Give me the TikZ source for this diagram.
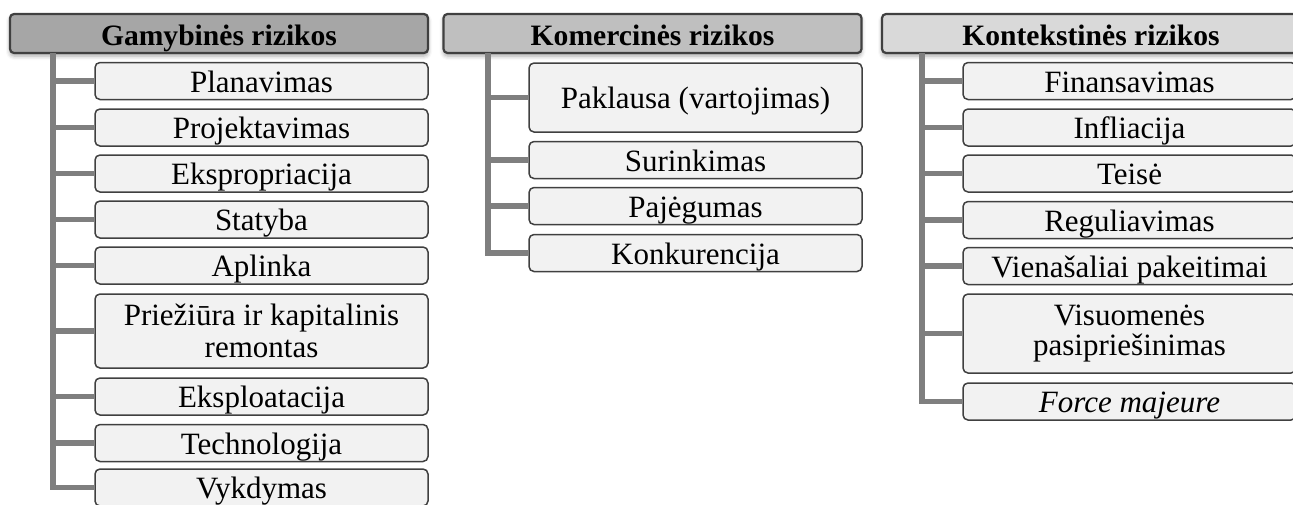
\documentclass[tikz,border=0pt]{standalone}
\usepackage{fontspec}
\setmainfont{Liberation Serif}
\usetikzlibrary{shadows.blur}
\definecolor{hdA}{HTML}{A6A6A6}
\definecolor{hdB}{HTML}{BFBFBF}
\definecolor{hdC}{HTML}{D9D9D9}
\definecolor{kidfill}{HTML}{F2F2F2}
\definecolor{edge}{HTML}{404040}
\definecolor{connc}{HTML}{7F7F7F}
\tikzset{
  hdr/.style={draw=edge, line width=1.1pt, rounded corners=2pt,
    minimum width=209pt, minimum height=19.5pt, inner sep=0pt,
    text height=12pt, text depth=0.5pt,
    font=\fontsize{14.8}{16}\selectfont\bfseries,
    blur shadow={shadow xshift=0pt, shadow yshift=-1.5pt, shadow blur radius=2pt, shadow opacity=35}},
  kidbase/.style={draw=edge, line width=0.75pt, rounded corners=2.5pt, fill=kidfill,
    minimum width=166.5pt, minimum height=18.5pt, inner sep=0pt, align=center,
    font=\fontsize{15.5}{17.5}\selectfont},
  kid/.style={kidbase, text height=12.5pt, text depth=1.5pt},
  conn/.style={draw=connc, line width=2.6pt},
}
\begin{document}
\begin{tikzpicture}[x=0.5pt,y=-0.5pt]
\useasboundingbox (0,0) rectangle (1293,504);
% headers
\node[hdr, fill=hdA] (h1) at (219,33.5) {Gamybinės rizikos};
\node[hdr, fill=hdB] (h2) at (652.5,33.5) {Komercinės rizikos};
\node[hdr, fill=hdC] (h3) at (1091,33.5) {Kontekstinės rizikos};
% column 1
\coordinate (c1) at (53,53);
\node[kid] (a1) at (261.5,81) {Planavimas};
\node[kid] (a2) at (261.5,127.5) {Projektavimas};
\node[kid] (a3) at (261.5,173.5) {Ekspropriacija};
\node[kid] (a4) at (261.5,219.5) {Statyba};
\node[kid] (a5) at (261.5,265.5) {Aplinka};
\node[kidbase, minimum height=37pt, text height=27pt, text depth=1pt,
  font=\fontsize{15.5}{16}\selectfont] (a6) at (261.5,331) {Priežiūra ir kapitalinis\\remontas};
\node[kid] (a7) at (261.5,396.5) {Eksploatacija};
\node[kid] (a8) at (261.5,443) {Technologija};
\node[kid] (a9) at (261.5,487.5) {Vykdymas};
% column 2
\coordinate (c2) at (488,53);
\node[kid, minimum height=34.5pt] (b1) at (695.5,97.5) {Paklausa (vartojimas)};
\node[kid] (b2) at (695.5,160) {Surinkimas};
\node[kid] (b3) at (695.5,206) {Pajėgumas};
\node[kid] (b4) at (695.5,253) {Konkurencija};
% column 3
\coordinate (c3) at (922,53);
\node[kid] (k1) at (1129.5,81) {Finansavimas};
\node[kid] (k2) at (1129.5,127.5) {Infliacija};
\node[kid] (k3) at (1129.5,173.5) {Teisė};
\node[kid] (k4) at (1129.5,220) {Reguliavimas};
\node[kid] (k5) at (1129.5,266) {Vienašaliai pakeitimai};
\node[kidbase, minimum height=39.5pt, text height=23pt, text depth=1pt,
  font=\fontsize{15.5}{14.8}\selectfont] (k6) at (1129.5,333.5) {Visuomenės\\pasipriešinimas};
\node[kid] (k7) at (1129.5,401.5) {\itshape Force majeure};
% connectors
\draw[conn] (c1) |- (a9.west);
\foreach \n in {a1,a2,a3,a4,a5,a6,a7,a8} \draw[conn] (c1 |- \n.west) -- (\n.west);
\draw[conn] (c2) |- (b4.west);
\foreach \n in {b1,b2,b3} \draw[conn] (c2 |- \n.west) -- (\n.west);
\draw[conn] (c3) |- (k7.west);
\foreach \n in {k1,k2,k3,k4,k5,k6} \draw[conn] (c3 |- \n.west) -- (\n.west);
\end{tikzpicture}
\end{document}
